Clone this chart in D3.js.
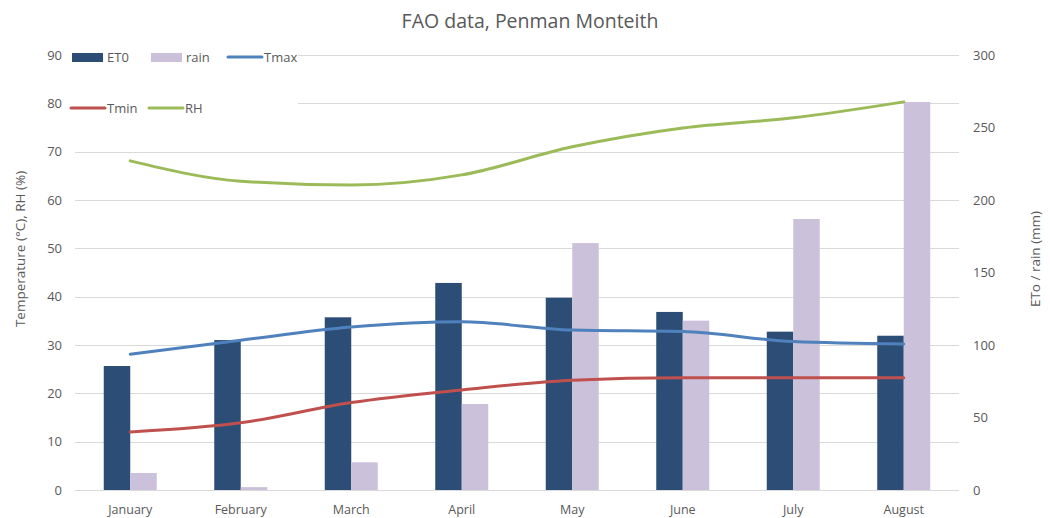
<!DOCTYPE html>
<meta charset="utf-8">
<style>
body { margin: 0; background: #fff; }
text { font-family: "Open Sans", "Noto Sans", sans-serif; fill: #595959; }
.grid line { stroke: #d9d9d9; stroke-width: 1px; }
.line { fill: none; stroke-width: 3px; stroke-linecap: round; }
</style>
<svg width="1050" height="518"></svg>
<script src="https://cdn.jsdelivr.net/npm/d3@7"></script>
<script>
// values
var months = ["January", "February", "March", "April", "May", "June", "July", "August"];
var et0  = [85.5, 103.4, 119.1, 142.8, 132.6, 122.8, 109.2, 106.4];
var rain = [11.7, 2.0, 19.1, 59.3, 170.3, 116.8, 186.9, 267.6];
var tmax = [28.1, 31.0, 33.7, 34.8, 33.1, 32.8, 30.7, 30.2];
var tmin = [12.0, 13.9, 18.1, 20.7, 22.7, 23.2, 23.2, 23.2];
var rh   = [68.1, 63.9, 63.1, 65.2, 71.0, 74.9, 77.0, 80.3];
var leftTicks  = [0, 10, 20, 30, 40, 50, 60, 70, 80, 90];
var rightTicks = [0, 50, 100, 150, 200, 250, 300];

var svg = d3.select("svg"),
    margin = {top: 55, right: 91, bottom: 28, left: 75},
    width = 1050 - margin.left - margin.right,
    height = 518 - margin.top - margin.bottom,
    g = svg.append("g").attr("transform", "translate(" + margin.left + "," + margin.top + ")");

var x = d3.scaleBand().domain(months).range([0, width]),
    xSub = d3.scaleBand().domain(["et0", "rain"]).range([0, 53]),
    yL = d3.scaleLinear().domain([0, 90]).range([height, 0]),
    yR = d3.scaleLinear().domain([0, 300]).range([height, 0]);

var off = (x.bandwidth() - 53) / 2;

// title
svg.append("text")
    .attr("x", 530).attr("y", 28)
    .attr("text-anchor", "middle")
    .style("font-size", "19.5px")
    .text("FAO data, Penman Monteith");

// gridlines
g.append("g").attr("class", "grid")
  .selectAll("line").data(leftTicks).enter().append("line")
    .attr("x1", 0).attr("x2", width)
    .attr("y1", function(d) { return Math.round(yL(d)) + 0.5; })
    .attr("y2", function(d) { return Math.round(yL(d)) + 0.5; });

// left axis labels
g.append("g").selectAll("text").data(leftTicks).enter().append("text")
    .attr("x", -13).attr("y", function(d) { return yL(d); })
    .attr("dy", "0.35em")
    .attr("text-anchor", "end")
    .style("font-size", "13px")
    .text(function(d) { return d; });

// right axis labels
g.append("g").selectAll("text").data(rightTicks).enter().append("text")
    .attr("x", width + 14).attr("y", function(d) { return yR(d); })
    .attr("dy", "0.35em")
    .style("font-size", "13px")
    .text(function(d) { return d; });

// x labels
g.append("g").selectAll("text").data(months).enter().append("text")
    .attr("x", function(d) { return x(d) + x.bandwidth() / 2; })
    .attr("y", height + 24)
    .attr("text-anchor", "middle")
    .style("font-size", "12.5px")
    .text(function(d) { return d; });

// axis titles
svg.append("text")
    .attr("transform", "translate(25,249) rotate(-90)")
    .attr("text-anchor", "middle")
    .style("font-size", "13.5px")
    .text("Temperature (°C), RH (%)");

svg.append("text")
    .attr("transform", "translate(1040,259) rotate(-90)")
    .attr("text-anchor", "middle")
    .style("font-size", "13.5px")
    .text("ETo / rain (mm)");

// bars
g.append("g").selectAll("rect").data(et0).enter().append("rect")
    .attr("x", function(d, i) { return x(months[i]) + off + xSub("et0"); })
    .attr("width", xSub.bandwidth())
    .attr("y", function(d) { return yR(d); })
    .attr("height", function(d) { return height - yR(d); })
    .attr("fill", "#2c4d75");

g.append("g").selectAll("rect").data(rain).enter().append("rect")
    .attr("x", function(d, i) { return x(months[i]) + off + xSub("rain"); })
    .attr("width", xSub.bandwidth())
    .attr("y", function(d) { return yR(d); })
    .attr("height", function(d) { return height - yR(d); })
    .attr("fill", "#ccc1da");

// lines
var line = d3.line()
    .curve(d3.curveMonotoneX)
    .x(function(d, i) { return x(months[i]) + x.bandwidth() / 2; })
    .y(function(d) { return yL(d); });

[[tmax, "#4f81bd"], [tmin, "#c0504d"], [rh, "#9bbb59"]].forEach(function(s) {
  g.append("path").datum(s[0])
      .attr("class", "line")
      .attr("d", line)
      .style("stroke", s[1]);
});

// legend (sits on top of the plot area, white background)
var legend = svg.append("g");
legend.append("rect")
    .attr("x", 66).attr("y", 44).attr("width", 232).attr("height", 74)
    .attr("fill", "#fff");

var items = [
  {name: "ET0", type: "bar", color: "#2c4d75", x: 72, y: 57},
  {name: "rain", type: "bar", color: "#ccc1da", x: 151, y: 57},
  {name: "Tmax", type: "line", color: "#4f81bd", x: 228, y: 57},
  {name: "Tmin", type: "line", color: "#c0504d", x: 71, y: 108},
  {name: "RH", type: "line", color: "#9bbb59", x: 149, y: 108}
];

items.forEach(function(d) {
  if (d.type === "bar") {
    legend.append("rect")
        .attr("x", d.x).attr("y", d.y - 4)
        .attr("width", 31).attr("height", 9)
        .attr("fill", d.color);
  } else {
    legend.append("line")
        .attr("x1", d.x).attr("x2", d.x + 34)
        .attr("y1", d.y).attr("y2", d.y)
        .attr("stroke", d.color)
        .attr("stroke-width", 3)
        .attr("stroke-linecap", "round");
  }
  legend.append("text")
      .attr("x", d.type === "bar" ? d.x + 35 : d.x + 36)
      .attr("y", d.y).attr("dy", "0.35em")
      .style("font-size", "13px")
      .text(d.name);
});
</script>
